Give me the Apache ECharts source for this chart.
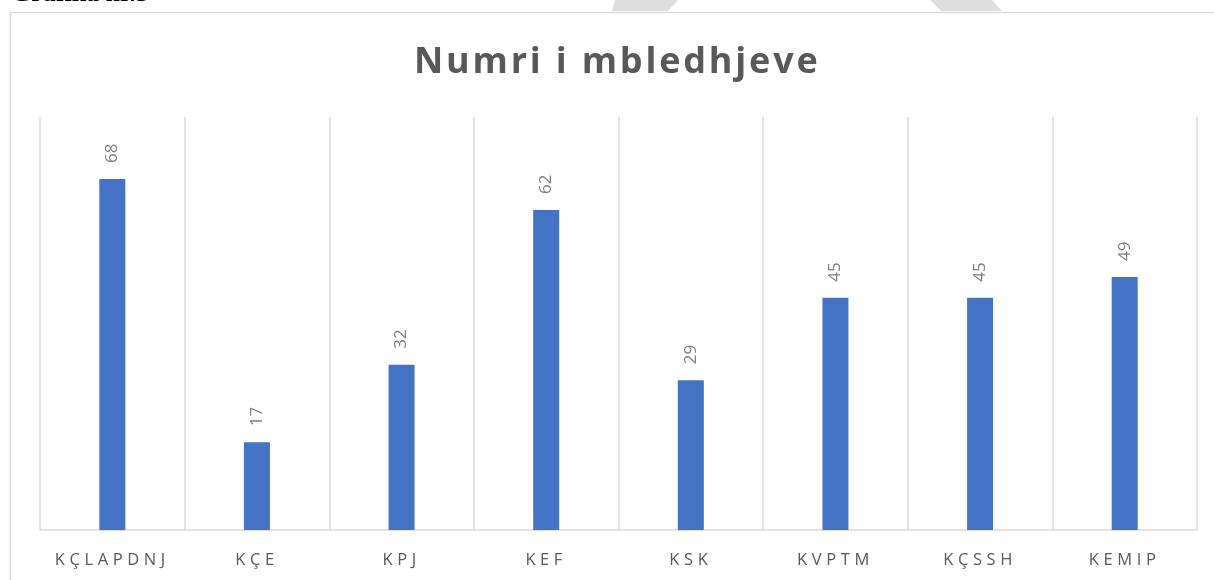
<!DOCTYPE html>
<html><head><meta charset="utf-8">
<script src="https://cdn.jsdelivr.net/npm/echarts@6/dist/echarts.min.js"></script>
<style>html,body{margin:0;padding:0;background:#fff}#c{width:1214px;height:580px}</style>
</head><body><div id="c"></div>
<script>
// letter spacing support for canvas text (keyed by font string)
(function(){
  var d = Object.getOwnPropertyDescriptor(CanvasRenderingContext2D.prototype, 'font');
  if (!d || !('letterSpacing' in CanvasRenderingContext2D.prototype)) return;
  Object.defineProperty(CanvasRenderingContext2D.prototype, 'font', {
    configurable: true,
    get: function(){ return d.get.call(this); },
    set: function(v){
      d.set.call(this, v);
      var ls = '0px';
      if (v.indexOf('16.5px') >= 0) ls = '4.6px';
      else if (v.indexOf('bold') >= 0 && v.indexOf('36px') >= 0) ls = '2.8px';
      this.letterSpacing = ls;
    }
  });
})();

const categories = ['KÇLAPDNJ', 'KÇE', 'KPJ', 'KEF', 'KSK', 'KVPTM', 'KÇSSH', 'KEMIP'];
const values = [68, 17, 32, 62, 29, 45, 45, 49];
const chartTitle = 'Numri i mbledhjeve';
const captionText = 'Grafika nr.5';

const chart = echarts.init(document.getElementById('c'), null, {renderer: 'canvas'});
chart.setOption({
  animation: false,
  backgroundColor: '#fff',
  title: {
    text: chartTitle,
    left: 409,
    top: 38,
    textStyle: {fontFamily: 'Open Sans', fontWeight: 'bold', fontSize: 36, color: '#595959'}
  },
  graphic: [
    {type: 'polygon', silent: true, z: 1, shape: {points: [[615,0],[678,0],[668,11],[612,11]]}, style: {fill: '#dedede'}},
    {type: 'polygon', silent: true, z: 1, shape: {points: [[930,0],[992,0],[1002,11],[941,11]]}, style: {fill: '#dedede'}},
    {type: 'rect', silent: true, z: 2, shape: {x: 10.5, y: 12.5, width: 1400, height: 800}, style: {fill: '#fff', stroke: '#d9d9d9', lineWidth: 1.5}},
    {type: 'text', silent: true, z: 3, x: 11, y: -19, style: {text: captionText, font: 'bold 26px "Liberation Serif", "DejaVu Serif", serif', fill: '#000'}}
  ],
  grid: {left: 40, right: 17, top: 117, bottom: 50},
  xAxis: {
    type: 'category',
    data: categories,
    z: 5,
    axisLine: {show: true, lineStyle: {color: '#d9d9d9', width: 1.5}},
    axisTick: {show: false},
    splitLine: {show: true, interval: 0, lineStyle: {color: '#d9d9d9', width: 1.5}},
    axisLabel: {interval: 0, fontFamily: 'Open Sans', fontSize: 16.5, color: '#595959', margin: 19}
  },
  yAxis: {
    type: 'value', min: 0, max: 80, interval: 10,
    show: false, splitLine: {show: false}
  },
  series: [{
    type: 'bar',
    data: values,
    barWidth: 26,
    z: 6,
    itemStyle: {color: '#4472c4'},
    label: {
      show: true, position: 'top', rotate: 90, align: 'left', verticalAlign: 'middle',
      distance: 16, fontFamily: 'Open Sans', fontSize: 17, color: '#7f7f7f'
    }
  }]
});
</script></body></html>
